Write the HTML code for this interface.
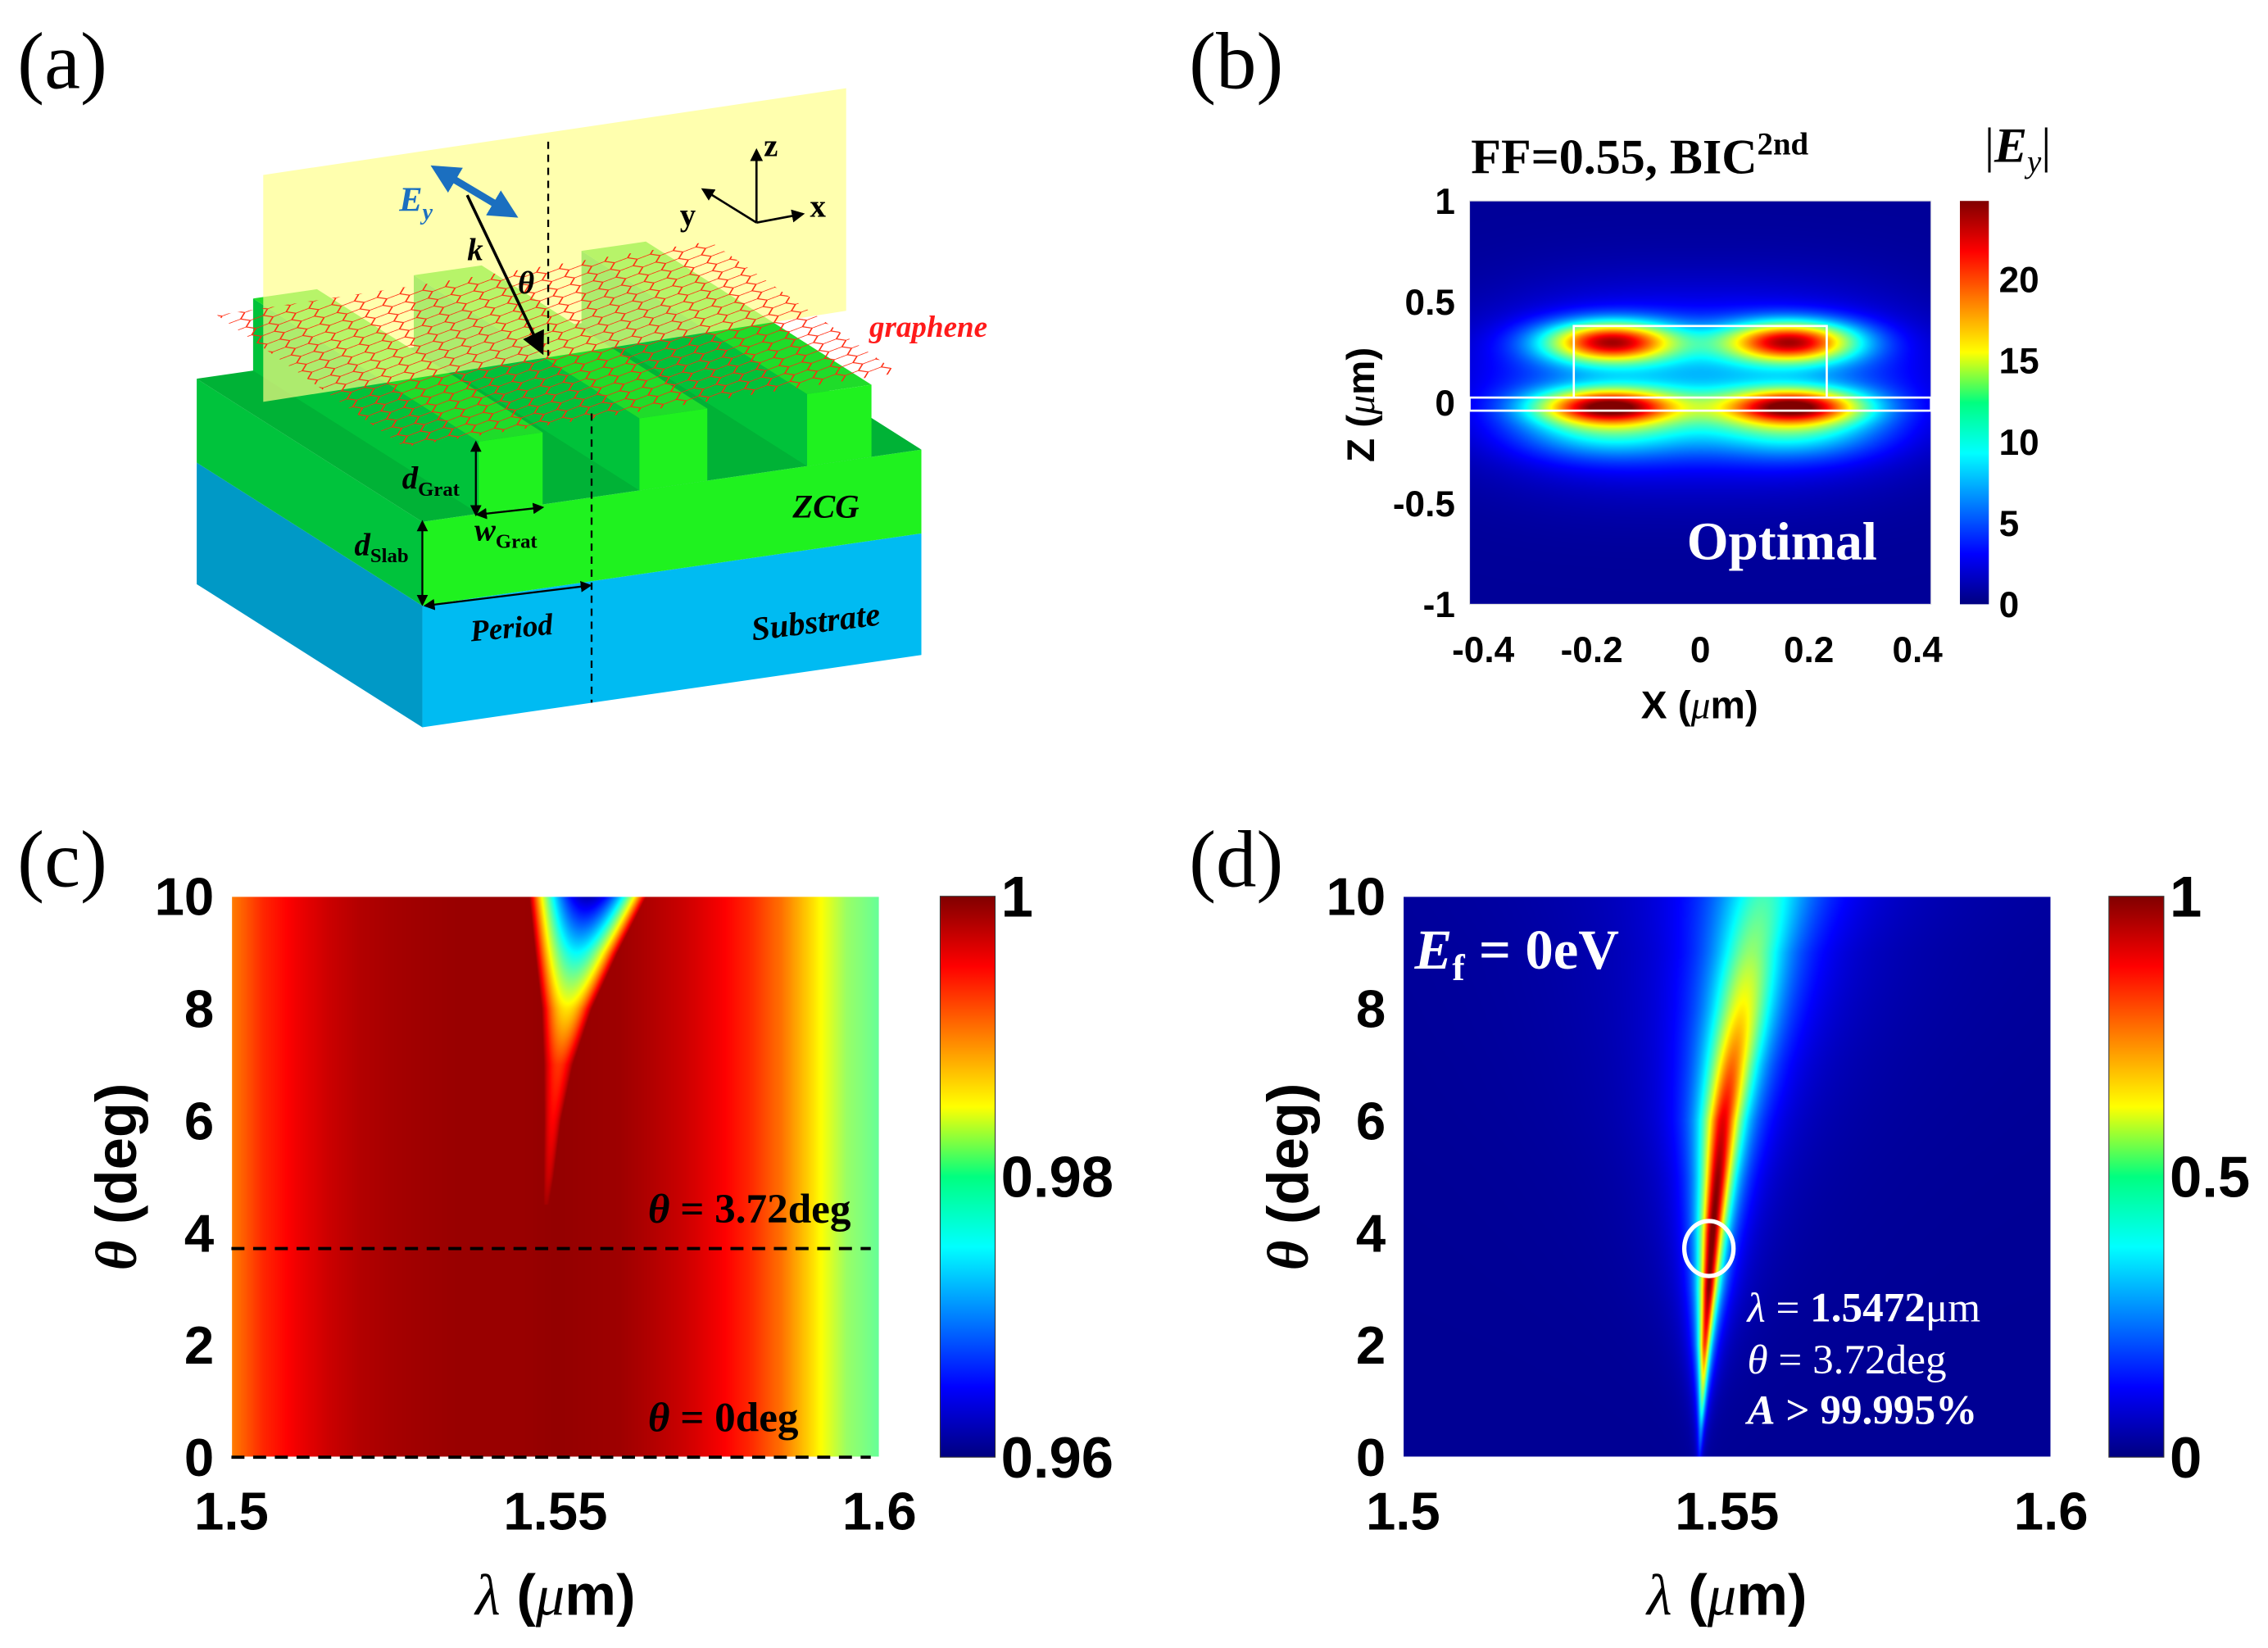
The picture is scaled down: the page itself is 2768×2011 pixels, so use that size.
<!DOCTYPE html>
<html><head><meta charset="utf-8"><style>
html,body{margin:0;padding:0;background:#fff}
#root{position:relative;width:2768px;height:2011px;overflow:hidden;background:#fff}
canvas{position:absolute}
svg{position:absolute;left:0;top:0}
</style></head><body>
<div id="root">
<canvas id="cvB"></canvas>
<canvas id="cvC"></canvas>
<canvas id="cvD"></canvas>
<svg id="ov" width="2768" height="2011" viewBox="0 0 1568 1140" preserveAspectRatio="none">
<defs>
<linearGradient id="jetg" x1="0" y1="1" x2="0" y2="0">
<stop offset="0" stop-color="#000080"/><stop offset="0.125" stop-color="#0000ff"/><stop offset="0.375" stop-color="#00ffff"/><stop offset="0.5" stop-color="#00ff80"/><stop offset="0.625" stop-color="#ffff00"/><stop offset="0.875" stop-color="#ff0000"/><stop offset="1" stop-color="#800000"/>
</linearGradient>
<pattern id="hex" width="6.928" height="12" patternUnits="userSpaceOnUse" patternTransform="rotate(-9) skewX(-40) scale(2.3,1.0)">
<path d="M0,0 L0,4 L3.464,6 L6.928,4 L6.928,0 M3.464,6 L3.464,10 L0,12 M3.464,10 L6.928,12" fill="none" stroke="#ff2a10" stroke-width="0.5"/>
</pattern>
<clipPath id="grclip"><polygon points="150,218 279,309 621,258 491,167"/></clipPath>
<marker id="ah" markerWidth="8" markerHeight="8" refX="6" refY="4" orient="auto"><path d="M0,0 L8,4 L0,8 Z" fill="#000"/></marker>
<marker id="ahb" markerWidth="4" markerHeight="4" refX="3" refY="2" orient="auto-start-reverse"><path d="M0,0 L4,2 L0,4 Z" fill="#1b6fc0"/></marker>
<marker id="ahs" markerWidth="6" markerHeight="6" refX="5" refY="3" orient="auto-start-reverse"><path d="M0,0 L6,3 L0,6 Z" fill="#000"/></marker>
</defs>

<g font-family="Liberation Serif, serif" font-size="56" fill="#000">
<text x="12" y="61">(a)</text>
<text x="822" y="61">(b)</text>
<text x="12" y="613">(c)</text>
<text x="822" y="613">(d)</text>
</g>

<g id="schem"></g>
<g id="axB"></g>
<g id="axC"></g>
<g id="axD"></g>
</svg>
</div>
<script>
// ===== Panel (c) data =====
const lamC = [1.5,1.505,1.51,1.515,1.52,1.525,1.53,1.535,1.54,1.545,1.55,1.555,1.56,1.565,1.57,1.575,1.58,1.585,1.59,1.595,1.6];
const baseC = [0.990,0.9935,0.9955,0.997,0.998,0.9985,0.9988,0.999,0.999,0.999,0.9992,0.999,0.9988,0.998,0.997,0.9955,0.9935,0.9905,0.986,0.981,0.979];
const notchTheta = [4.5,5,6,7,8,9,10];
const notchCenter = [1.5486,1.549,1.5496,1.5505,1.5518,1.5533,1.5551];
const notchMin = [0.9985,0.997,0.995,0.993,0.986,0.975,0.962];
const notchHW = [0.0006,0.0009,0.0014,0.0024,0.004,0.0065,0.0092];
const cTicksY = [0,2,4,6,8,10];
const cTicksX = [1.5,1.55,1.6];
const cBarTicks = [0.96,0.98,1];
const cLines = [3.72,0];
// ===== Panel (d) data =====
const thetaD = [0,0.5,1,2,3,4,5,6,7,8,9,10];
const centerD = [1.5458,1.5460,1.5462,1.5466,1.5472,1.5478,1.5486,1.5494,1.5508,1.5524,1.5538,1.5556];
const peakD = [0.12,0.25,0.45,0.8,0.97,1.0,0.96,0.88,0.75,0.62,0.5,0.42];
const widthD = [0.0004,0.0005,0.0006,0.0009,0.0013,0.0017,0.0022,0.0029,0.0037,0.0047,0.0058,0.0075];
const bgD = 0.02;
const dBarTicks = [0,0.5,1];
const dMark = [1.5472,3.72];
// ===== Panel (b) data =====
const lobeX = [-0.165,0.165,-0.17,0.17,-0.17,0.17,-0.17,0.17];
const lobeZ = [0.30,0.30,-0.02,-0.02,-0.13,-0.13,0.08,0.08];
const lobeAmp = [19,19,17,17,6,6,5,5];
const lobeSx = [0.085,0.085,0.09,0.09,0.11,0.11,0.18,0.18];
const lobeSz = [0.07,0.07,0.06,0.06,0.1,0.1,0.28,0.28];
const bMax = 24.8;
const bTicksZ = [1,0.5,0,-0.5,-1];
const bTicksX = [-0.4,-0.2,0,0.2,0.4];
const bBarTicks = [0,5,10,15,20];

const SX = 2768/1568, SY = 2011/1140;
const NS = "http://www.w3.org/2000/svg";
function clamp(v){return v<0?0:v>1?1:v;}
function jet(t){t=clamp(t);return [clamp(1.5-Math.abs(4*t-3))*255,clamp(1.5-Math.abs(4*t-2))*255,clamp(1.5-Math.abs(4*t-1))*255];}
function lerpArr(xs,ys,x){if(x<=xs[0])return ys[0];for(let i=1;i<xs.length;i++){if(x<=xs[i]){const f=(x-xs[i-1])/(xs[i]-xs[i-1]);return ys[i-1]+f*(ys[i]-ys[i-1]);}}return ys[ys.length-1];}
function el(tag,attrs,parent,txt){const e=document.createElementNS(NS,tag);for(const k in attrs)e.setAttribute(k,attrs[k]);if(txt!==undefined)e.textContent=txt;parent.appendChild(e);return e;}

function paint(id,x0,y0,x1,y1,fn){
  const c=document.getElementById(id);
  const L=Math.round(x0*SX),T=Math.round(y0*SY),W=Math.round(x1*SX)-L,H=Math.round(y1*SY)-T;
  c.width=W;c.height=H;c.style.left=L+'px';c.style.top=T+'px';
  const ctx=c.getContext('2d');const im=ctx.createImageData(W,H);
  for(let j=0;j<H;j++){const fy=1-(j+0.5)/H;for(let i=0;i<W;i++){const fx=(i+0.5)/W;const col=jet(fn(fx,fy));const p=(j*W+i)*4;im.data[p]=col[0];im.data[p+1]=col[1];im.data[p+2]=col[2];im.data[p+3]=255;}}
  ctx.putImageData(im,0,0);
}

const C={x0:160,x1:608,y0:620,y1:1008,lmin:1.5,lmax:1.6,tmin:0,tmax:10};
paint('cvC',C.x0,C.y0,C.x1,C.y1,function(fx,fy){
  const lam=C.lmin+fx*(C.lmax-C.lmin), th=C.tmin+fy*(C.tmax-C.tmin);
  let v=lerpArr(lamC,baseC,lam);
  if(th>notchTheta[0]){
    const c=lerpArr(notchTheta,notchCenter,th),m=lerpArr(notchTheta,notchMin,th),hw=lerpArr(notchTheta,notchHW,th);
    const d=(lam-c)/hw;const nv=m+(1-m)*d*d;if(nv<v)v=nv;
  }
  return (v-0.96)/0.04;
});
const D={x0:970,x1:1418,y0:620,y1:1008,lmin:1.5,lmax:1.6,tmin:0,tmax:10};
paint('cvD',D.x0,D.y0,D.x1,D.y1,function(fx,fy){
  const lam=D.lmin+fx*(D.lmax-D.lmin), th=D.tmin+fy*(D.tmax-D.tmin);
  const c=lerpArr(thetaD,centerD,th),p=lerpArr(thetaD,peakD,th),w=lerpArr(thetaD,widthD,th);
  const d=(lam-c)/w;return bgD+p/(1+d*d);
});
const B={x0:1016,x1:1335,y0:139,y1:418,xmin:-0.425,xmax:0.425,zmin:-1,zmax:1};
paint('cvB',B.x0,B.y0,B.x1,B.y1,function(fx,fy){
  const x=B.xmin+fx*(B.xmax-B.xmin), z=B.zmin+fy*(B.zmax-B.zmin);
  let v=0.6;
  for(let k=0;k<lobeX.length;k++){const dx=(x-lobeX[k])/lobeSx[k],dz=(z-lobeZ[k])/lobeSz[k];v+=lobeAmp[k]*Math.exp(-0.5*(dx*dx+dz*dz));}
  return v/bMax;
});

const SANS="Liberation Sans, Arial, sans-serif", SERIF="Liberation Serif, Times New Roman, serif";
function heatAxes(g,P,ticksY,ticksX,barX,barTicks,barMin,barMax,barFmt,pre){
  el('rect',{x:P.x0,y:P.y0,width:P.x1-P.x0,height:P.y1-P.y0,fill:'none',stroke:'#fff','stroke-width':0.8,},g);
  ticksY.forEach(function(t){const y=P.y1-(t-P.tmin)/(P.tmax-P.tmin)*(P.y1-P.y0);
    const tx=el('text',{x:P.x0-12,y:y+13,'text-anchor':'end','font-family':SANS,'font-weight':'bold','font-size':37},g,String(t));
    
    });
  ticksX.forEach(function(t){const x=P.x0+(t-P.lmin)/(P.lmax-P.lmin)*(P.x1-P.x0);
    const tx=el('text',{x:x,y:1058,'text-anchor':'middle','font-family':SANS,'font-weight':'bold','font-size':37},g,String(t));
    
    });
  const xl=el('text',{x:(P.x0+P.x1)/2,y:1117,'text-anchor':'middle','font-family':SANS,'font-weight':'bold','font-size':40},g);
  
  
  el('tspan',{'font-family':SERIF,'font-weight':'normal','font-style':'italic'},xl,'λ');el('tspan',{},xl,' (');el('tspan',{'font-family':SERIF,'font-weight':'normal','font-style':'italic'},xl,'μ');el('tspan',{},xl,'m)');
  const yl=el('text',{x:0,y:0,'text-anchor':'middle','font-family':SANS,'font-weight':'bold','font-size':40,transform:'translate('+(P.x0-66)+','+((P.y0+P.y1)/2)+') rotate(-90)'},g);
  
  
  el('tspan',{'font-family':SERIF,'font-style':'italic'},yl,'θ');el('tspan',{},yl,' (deg)');
  const cb=el('rect',{x:barX,y:P.y0,width:38,height:P.y1-P.y0,fill:'url(#jetg)',stroke:'#333','stroke-width':0.6},g);
  
  
  barTicks.forEach(function(t){const y=P.y1-(t-barMin)/(barMax-barMin)*(P.y1-P.y0);
    const tx=el('text',{x:barX+42,y:y+14,'font-family':SANS,'font-weight':'bold','font-size':40},g,barFmt(t));
    
    });
}
const gC=document.getElementById('axC');
heatAxes(gC,C,cTicksY,cTicksX,650,cBarTicks,0.96,1,function(t){return t===1?'1':t.toFixed(2);},'c');
cLines.forEach(function(t){const y=C.y1-(t-C.tmin)/(C.tmax-C.tmin)*(C.y1-C.y0);
  const ln=el('line',{x1:C.x0,x2:C.x1-6,y1:y,y2:y,stroke:'#000','stroke-width':2.2,'stroke-dasharray':'9,6'},gC);
  
  
  const tx=el('text',{x:448,y:y-18,'font-family':SERIF,'font-weight':'bold','font-size':29},gC);
  
  
  el('tspan',{'font-style':'italic'},tx,'θ');el('tspan',{},tx,' = '+t+'deg');
});
const gD=document.getElementById('axD');
heatAxes(gD,D,cTicksY,cTicksX,1458,dBarTicks,0,1,function(t){return String(t);},'d');
(function(){
  const cx=D.x0+(dMark[0]-D.lmin)/(D.lmax-D.lmin)*(D.x1-D.x0), cy=D.y1-(dMark[1]-D.tmin)/(D.tmax-D.tmin)*(D.y1-D.y0);
  const e=el('ellipse',{cx:cx,cy:cy,rx:17,ry:19,fill:'none',stroke:'#fff','stroke-width':3},gD);
  
  
  const t1=el('text',{x:978,y:670,fill:'#fff','font-family':SERIF,'font-weight':'bold','font-size':39},gD);
  
  
  el('tspan',{'font-style':'italic'},t1,'E');el('tspan',{'font-size':26,dy:8},t1,'f');el('tspan',{dy:-8},t1,' = 0eV');
  const lines=[['λ',' = ','1.5472','μm'],['θ',' = 3.72deg','',''],['A',' > 99.995%','','']];
  const ys=[914,950,985];
  lines.forEach(function(L,i){const t=el('text',{x:1208,y:ys[i],fill:'#fff','font-family':SERIF,'font-size':29,'font-weight':i===2?'bold':'normal'},gD);
    
    
    el('tspan',{'font-style':'italic'},t,L[0]);el('tspan',{},t,L[1]);if(L[2])el('tspan',{'font-weight':'bold'},t,L[2]);if(L[3])el('tspan',{},t,L[3]);});
})();
(function(){
  const g=document.getElementById('axB');
  el('rect',{x:B.x0,y:B.y0,width:B.x1-B.x0,height:B.y1-B.y0,fill:'none',stroke:'#ddd','stroke-width':0.6},g);
  const zy=function(z){return B.y1-(z-B.zmin)/(B.zmax-B.zmin)*(B.y1-B.y0);}, xx=function(x){return B.x0+(x-B.xmin)/(B.xmax-B.xmin)*(B.x1-B.x0);};
  bTicksZ.forEach(function(t){const tx=el('text',{x:B.x0-10,y:zy(t)+9,'text-anchor':'end','font-family':SANS,'font-weight':'bold','font-size':25},g,String(t));
    
    });
  bTicksX.forEach(function(t){const tx=el('text',{x:xx(t),y:458,'text-anchor':'middle','font-family':SANS,'font-weight':'bold','font-size':25},g,String(t));
    
    });
  const xl=el('text',{x:1175,y:497,'text-anchor':'middle','font-family':SANS,'font-weight':'bold','font-size':27},g);
  
  
  el('tspan',{},xl,'X (');el('tspan',{'font-family':SERIF,'font-weight':'normal','font-style':'italic'},xl,'μ');el('tspan',{},xl,'m)');
  const yl=el('text',{x:0,y:0,'text-anchor':'middle','font-family':SANS,'font-weight':'bold','font-size':27,transform:'translate(950,280) rotate(-90)'},g);
  
  
  el('tspan',{},yl,'Z (');el('tspan',{'font-family':SERIF,'font-weight':'normal','font-style':'italic'},yl,'μ');el('tspan',{},yl,'m)');
  const sr=el('rect',{x:B.x0,y:zy(0.025),width:B.x1-B.x0,height:zy(-0.04)-zy(0.025),fill:'none',stroke:'#fff','stroke-width':1.5},g);
  
  
  const rr=el('path',{d:'M'+xx(-0.233)+','+zy(0.025)+' V'+zy(0.38)+' H'+xx(0.233)+' V'+zy(0.025),fill:'none',stroke:'#fff','stroke-width':1.5},g);
  
  
  const op=el('text',{x:1232,y:387,'text-anchor':'middle',fill:'#fff','font-family':SERIF,'font-weight':'bold','font-size':37},g,'Optimal');
  
  
  const ti=el('text',{x:1017,y:120,'font-family':SERIF,'font-weight':'bold','font-size':34},g);
  
  
  el('tspan',{},ti,'FF=0.55, BIC');el('tspan',{'font-size':22,dy:-13},ti,'2nd');
  const cb=el('rect',{x:1355,y:B.y0,width:20,height:B.y1-B.y0,fill:'url(#jetg)'},g);
  
  
  bBarTicks.forEach(function(t){const y=B.y1-t/bMax*(B.y1-B.y0);
    const tx=el('text',{x:1382,y:y+9,'font-family':SANS,'font-weight':'bold','font-size':25},g,String(t));
    
    });
  const ey=el('text',{x:1372,y:112,'font-family':SERIF,'font-size':34},g);
  
  
  el('tspan',{},ey,'|');el('tspan',{'font-style':'italic','font-weight':'bold'},ey,'E');el('tspan',{'font-style':'italic','font-size':22,dy:7},ey,'y');el('tspan',{dy:-7},ey,'|');
})();

(function(){
  const g=document.getElementById('schem');
  function P(u,v,w){return [292+345*u-156*v, 361-50*u-99*v-58*w];}
  function poly(pts,fill,name){const e=el('polygon',{points:pts.map(function(p){return P(p[0],p[1],p[2]).join(',');}).join(' '),fill:fill},g);
    
    return e;}
  const sb=-2.45;
  poly([[0,0,-1],[1,0,-1],[1,0,sb],[0,0,sb]],'#00bbf2','substrate-front');
  poly([[0,0,-1],[0,1,-1],[0,1,sb],[0,0,sb]],'#0099c6','substrate-side');
  poly([[0,0,0],[1,0,0],[1,0,-1],[0,0,-1]],'#1ff21f','slab-front');
  poly([[0,0,0],[0,1,0],[0,1,-1],[0,0,-1]],'#00c33c','slab-side');
  poly([[0,0,0],[1,0,0],[1,1,0],[0,1,0]],'#00b236','slab-top');
  const ridges=[[0.771,0.9],[0.435,0.571],[0.113,0.241]], h=0.86;
  ridges.forEach(function(r){
    poly([[r[0],0,0],[r[0],1,0],[r[0],1,h],[r[0],0,h]],'#00c23a','ridge-side');
    poly([[r[0],0,h],[r[1],0,h],[r[1],1,h],[r[0],1,h]],'#1fdc2a','ridge-top');
    poly([[r[0],0,0],[r[1],0,0],[r[1],0,h],[r[0],0,h]],'#1ff21f','ridge-front');
  });
  const yp=el('polygon',{points:'182,121 585,61 585,215 182,278',fill:'#ffff88',opacity:0.68},g);
  
  
  const gr=el('rect',{x:140,y:160,width:490,height:160,fill:'url(#hex)','clip-path':'url(#grclip)'},g);
  
  
  const d1=el('line',{x1:379,y1:98,x2:379,y2:246,stroke:'#000','stroke-width':1.3,'stroke-dasharray':'5,4'},g);
  
  
  const d2=el('line',{x1:409,y1:286,x2:409,y2:486,stroke:'#000','stroke-width':1.3,'stroke-dasharray':'5,4'},g);
  
  
  const k=el('line',{x1:323,y1:135,x2:374,y2:242,stroke:'#000','stroke-width':2,'marker-end':'url(#ah)'},g);
  
  
  const eA=el('line',{x1:302,y1:117,x2:354,y2:148,stroke:'#1b6fc0','stroke-width':5,'marker-start':'url(#ahb)','marker-end':'url(#ahb)'},g);
  
  
  function lab(x,y,txt,attrs,name){const t=el('text',Object.assign({x:x,y:y,'font-family':SERIF},attrs),g,txt);
    
    return t;}
  const ey=lab(276,146,'',{fill:'#1b6fc0','font-size':24,'font-weight':'bold','font-style':'italic'},'ey-label');
  el('tspan',{},ey,'E');el('tspan',{'font-size':16,dy:6},ey,'y');
  lab(323,180,'k',{'font-size':22,'font-weight':'bold','font-style':'italic'},'k-label');
  lab(358,203,'θ',{'font-size':22,'font-weight':'bold','font-style':'italic'},'theta-label');
  const ax=[[523,154,523,104],[523,154,555,148],[523,154,486,131]];
  ax.forEach(function(a){const l=el('line',{x1:a[0],y1:a[1],x2:a[2],y2:a[3],stroke:'#000','stroke-width':1.5,'marker-end':'url(#ahs)'},g);
    
    });
  lab(528,108,'z',{'font-size':22,'font-weight':'bold'},'z-axis-label');
  lab(560,150,'x',{'font-size':22,'font-weight':'bold'},'x-axis-label');
  lab(470,156,'y',{'font-size':22,'font-weight':'bold'},'y-axis-label');
  lab(601,233,'graphene',{fill:'#ff1a1a','font-size':21,'font-weight':'bold','font-style':'italic'},'graphene-label');
  lab(548,358,'ZCG',{'font-size':23,'font-weight':'bold','font-style':'italic'},'zcg-label');
  lab(519,437,'Substrate',{'font-size':23,'font-weight':'bold','font-style':'italic',transform:'rotate(-7 569 428)'},'substrate-label');
  lab(325,441,'Period',{'font-size':21,'font-weight':'bold','font-style':'italic',transform:'rotate(-5 355 433)'},'period-label');
  const dg=lab(278,338,'d',{'font-size':22,'font-weight':'bold','font-style':'italic'},'dgrat-label');el('tspan',{'font-size':14,'font-style':'normal',dy:5},dg,'Grat');
  const ds=lab(245,384,'d',{'font-size':22,'font-weight':'bold','font-style':'italic'},'dslab-label');el('tspan',{'font-size':14,'font-style':'normal',dy:5},ds,'Slab');
  const wg=lab(328,374,'w',{'font-size':22,'font-weight':'bold','font-style':'italic'},'wgrat-label');el('tspan',{'font-size':14,'font-style':'normal',dy:5},wg,'Grat');
  const dims=[[329,306,329,356],[330,356,375,351],[292,361,292,418],[294,419,408,405]];
  dims.forEach(function(a){const l=el('line',{x1:a[0],y1:a[1],x2:a[2],y2:a[3],stroke:'#000','stroke-width':1.3,'marker-start':'url(#ahs)','marker-end':'url(#ahs)'},g);
    
    });
})();
</script>
</body></html>
